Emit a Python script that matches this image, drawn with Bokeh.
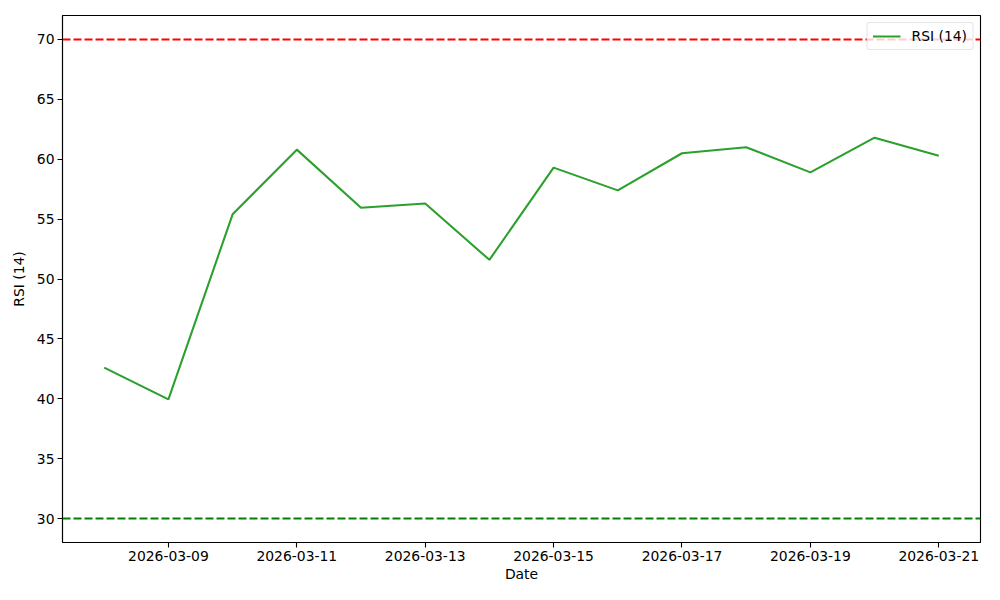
from datetime import datetime
from bokeh.plotting import figure
from bokeh.models import Range1d, Span, FixedTicker, DatetimeTickFormatter, Legend, LegendItem, ColumnDataSource
from bokeh.embed import file_html
from bokeh.resources import INLINE

dates = ["2026-03-08", "2026-03-09", "2026-03-10", "2026-03-11", "2026-03-12", "2026-03-13", "2026-03-14",
         "2026-03-15", "2026-03-16", "2026-03-17", "2026-03-18", "2026-03-19", "2026-03-20", "2026-03-21"]
rsi = [42.6, 39.95, 55.4, 60.8, 55.95, 56.3, 51.6, 59.3, 57.4, 60.5, 61.0, 58.9, 61.8, 60.3]
x_tick_labels = ["2026-03-09", "2026-03-11", "2026-03-13", "2026-03-15", "2026-03-17", "2026-03-19", "2026-03-21"]
y_ticks = [30, 35, 40, 45, 50, 55, 60, 65, 70]
overbought = 70
oversold = 30

xs = [datetime.strptime(d, "%Y-%m-%d") for d in dates]
src = ColumnDataSource(dict(x=xs, y=rsi))

pad = (xs[-1] - xs[0]) * 0.05
p = figure(width=984, height=584, x_axis_type="datetime", output_backend="svg", toolbar_location=None,
           x_range=Range1d(xs[0] - pad, xs[-1] + pad), y_range=Range1d(28, 72),
           min_border_left=62, min_border_right=4, min_border_top=15, min_border_bottom=42)
p.grid.visible = False
p.outline_line_color = "black"
p.outline_line_width = 1.1
p.background_fill_color = "white"
p.border_fill_color = "white"

tick_ms = [datetime.strptime(t, "%Y-%m-%d").timestamp() * 1000 for t in x_tick_labels]
p.xaxis.ticker = FixedTicker(ticks=tick_ms)
p.xaxis.formatter = DatetimeTickFormatter(days="%Y-%m-%d", months="%Y-%m-%d", hours="%Y-%m-%d")
p.yaxis.ticker = FixedTicker(ticks=y_ticks)

for ax in (p.xaxis[0], p.yaxis[0]):
    ax.major_tick_out = 5
    ax.major_tick_in = 0
    ax.minor_tick_out = 0
    ax.minor_tick_in = 0
    ax.major_tick_line_width = 1.1
    ax.axis_line_width = 1.1
    ax.major_label_text_font = "DejaVu Sans"
    ax.major_label_text_font_size = "13.9px"
    ax.major_label_text_color = "black"
    ax.axis_label_text_font = "DejaVu Sans"
    ax.axis_label_text_font_size = "13.9px"
    ax.axis_label_text_font_style = "normal"
    ax.axis_label_text_color = "black"
    ax.axis_line_color = "black"
    ax.major_tick_line_color = "black"
p.xaxis.axis_label = "Date"
p.yaxis.axis_label = "RSI (14)"
p.xaxis.major_label_standoff = 3
p.yaxis.major_label_standoff = 3
p.xaxis.axis_label_standoff = 2
p.yaxis.axis_label_standoff = 7

r = p.line("x", "y", source=src, line_color="#2ca02c", line_width=2.08)
p.add_layout(Span(location=overbought, dimension="width", line_color="red", line_dash="8 3", line_width=2.08))
p.add_layout(Span(location=oversold, dimension="width", line_color="green", line_dash="8 3", line_width=2.08))

legend = Legend(items=[LegendItem(label="RSI (14)", renderers=[r])], location="top_right",
                label_text_font="DejaVu Sans", label_text_font_size="13.9px", label_text_color="black",
                margin=7, padding=5, glyph_width=28, glyph_height=14, label_standoff=11,
                border_line_color="#cccccc", border_line_width=1.1, background_fill_alpha=0.8, label_height=14)
if "border_radius" in Legend.properties():
    legend.border_radius = 3
p.add_layout(legend, "center")

open("out.html", "w").write(file_html(p, INLINE))
